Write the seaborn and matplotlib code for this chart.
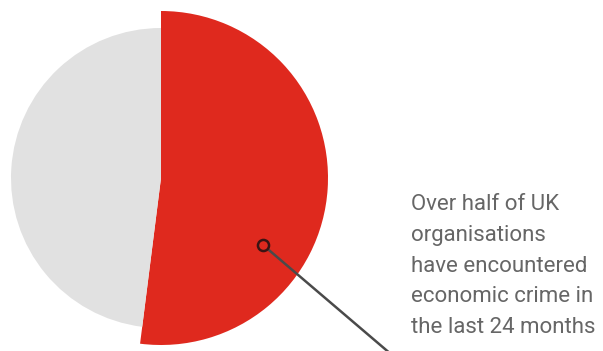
import matplotlib
matplotlib.use("Agg")
import matplotlib.pyplot as plt
import seaborn as sns

labels = ["Encountered economic crime", "Did not"]
values = [52, 48]
colors = ["#DF291E", "#E1E1E1"]
radii = [167, 150]
caption = "Over half of UK\norganisations\nhave encountered\neconomic crime in\nthe last 24 months"

sns.set_theme(style="white")
plt.rcParams['font.family'] = ['Roboto', 'DejaVu Sans']

fig = plt.figure(figsize=(6.03, 3.51), dpi=100)
ax = fig.add_axes([0, 0, 1, 1])
center = (161, 173)
wedges, _ = ax.pie(values, colors=colors, startangle=90, counterclock=False,
                   center=center, radius=max(radii), frame=True,
                   wedgeprops=dict(linewidth=0))
for w, r in zip(wedges, radii):
    w.set_radius(r)
ax.set_xlim(0, 603)
ax.set_ylim(0, 351)
ax.set_aspect('equal')
ax.axis('off')

# pointer
ax.plot([263, 392], [106, -4], color="#4a4a4a", lw=1.8, solid_capstyle='butt', zorder=3)
ax.plot([263], [106], marker='o', ms=8, mfc="#DF291E", mec="#3a1414", mew=1.8, zorder=4)

ax.text(411, 85, caption, ha='left', va='center', fontsize=16,
        color="#666666", linespacing=1.6)

fig.savefig("out.png", dpi=100)
